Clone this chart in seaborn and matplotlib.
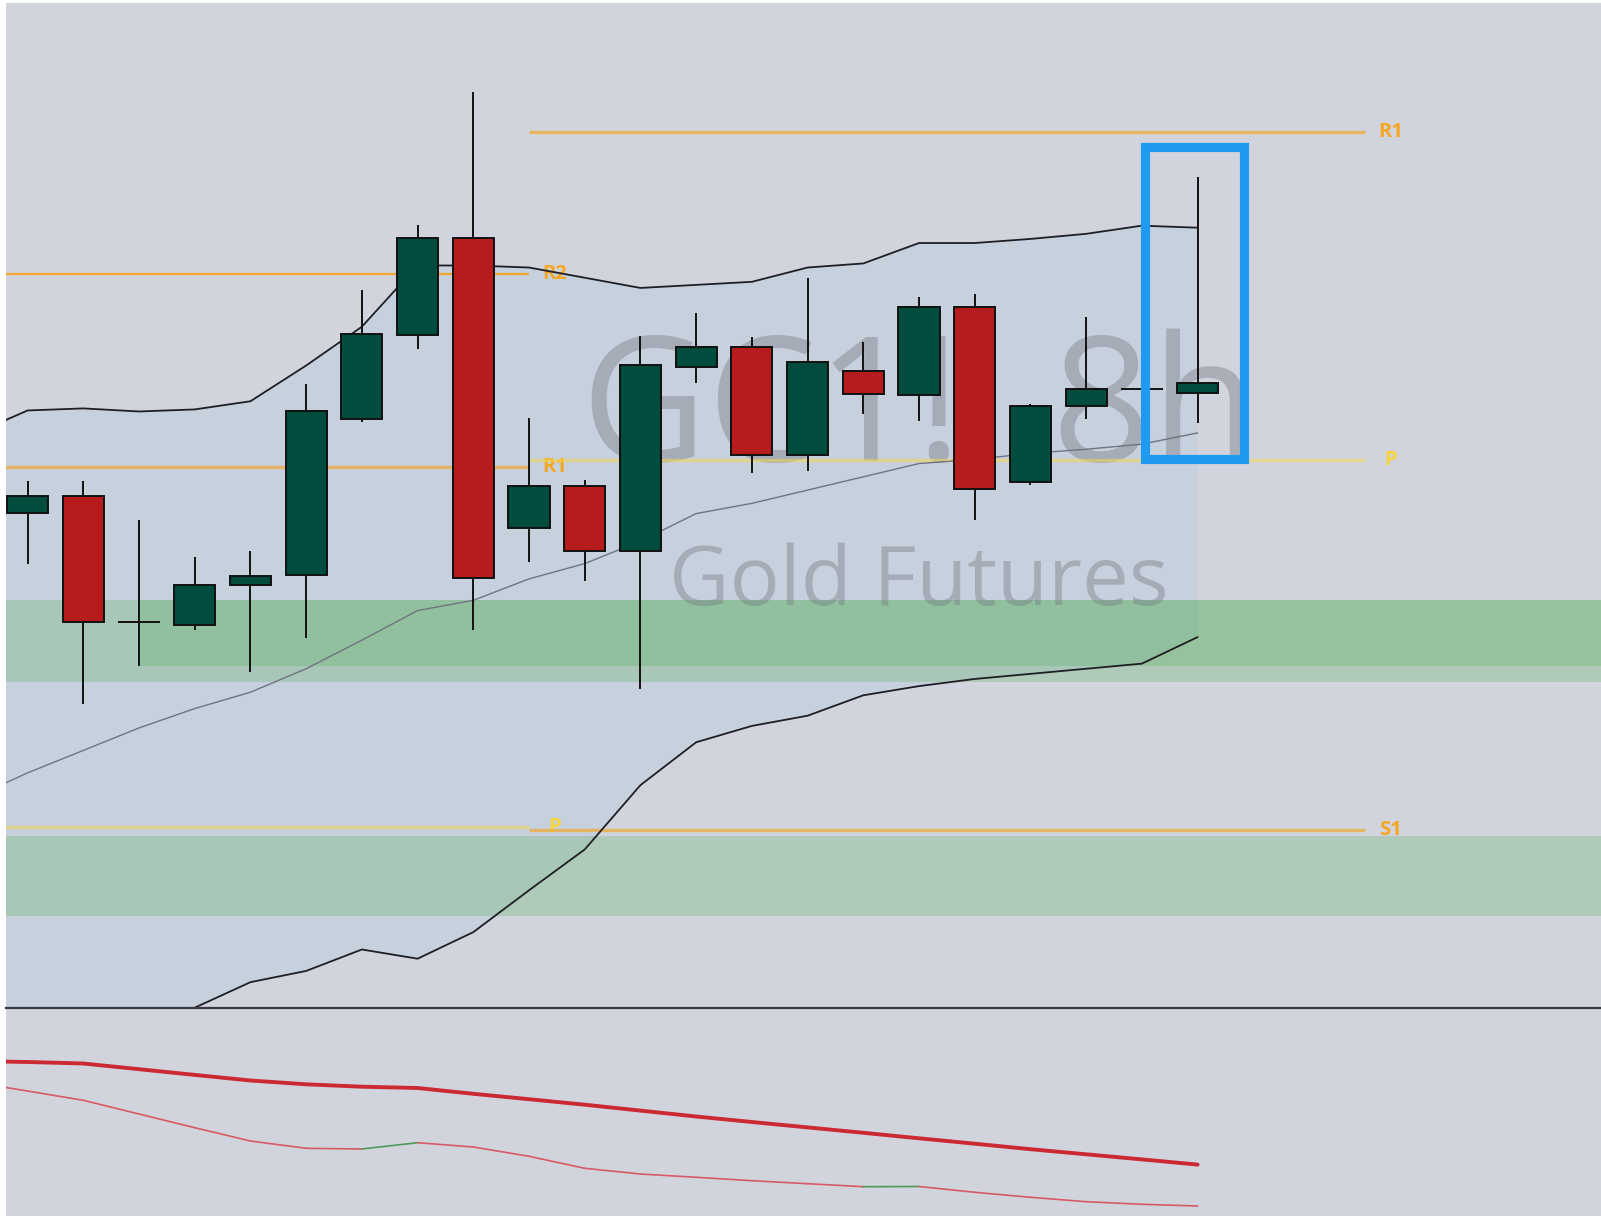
import numpy as np
import pandas as pd
import matplotlib
matplotlib.use("Agg")
import matplotlib.pyplot as plt
import seaborn as sns
from matplotlib.patches import Rectangle

# ---------------- data ----------------
bar_index = list(range(22))
opens  = [2349.8, 2351.4, 2339.1, 2338.8, 2342.7, 2343.7, 2359.0, 2367.2, 2376.7, 2348.3, 2352.4,
          2346.0, 2364.1, 2366.0, 2355.4, 2363.7, 2361.3, 2369.9, 2352.8, 2360.2, 2361.9, 2361.5]
closes = [2351.4, 2339.1, 2339.1, 2342.7, 2343.6, 2359.7, 2367.3, 2376.7, 2343.4, 2352.4, 2346.0,
          2364.3, 2366.0, 2355.4, 2364.5, 2361.4, 2369.9, 2352.1, 2360.2, 2361.9, 2361.9, 2362.5]
highs  = [2352.9, 2352.9, 2349.1, 2345.4, 2346.0, 2362.4, 2371.6, 2378.0, 2391.0, 2359.1, 2353.0,
          2367.1, 2369.3, 2367.0, 2372.8, 2366.5, 2370.9, 2371.2, 2360.4, 2369.0, 2361.9, 2382.7]
lows   = [2344.8, 2331.0, 2334.8, 2338.3, 2334.2, 2337.5, 2358.7, 2365.8, 2338.3, 2345.0, 2343.1,
          2332.5, 2362.5, 2353.7, 2353.9, 2359.5, 2358.8, 2349.1, 2352.5, 2359.0, 2361.9, 2358.6]

band_index = list(range(-1, 22))
bb_upper = [2357.4, 2359.8, 2360.0, 2359.7, 2359.9, 2360.7, 2364.2, 2368.0, 2374.0, 2374.0, 2373.8, 2372.8,
            2371.8, 2372.1, 2372.4, 2373.8, 2374.2, 2376.2, 2376.2, 2376.6, 2377.1, 2377.9, 2377.7]
bb_basis = [2321.8, 2324.3, 2326.5, 2328.7, 2330.6, 2332.2, 2334.5, 2337.3, 2340.2, 2341.2, 2343.3, 2344.8,
            2347.0, 2349.7, 2350.7, 2352.0, 2353.3, 2354.6, 2355.0, 2355.6, 2356.0, 2356.5, 2357.6]
bb_lower = [2286.2, 2288.8, 2293.0, 2297.7, 2301.3, 2303.8, 2304.9, 2307.0, 2306.1, 2308.7, 2312.8, 2316.8,
            2323.1, 2327.3, 2328.9, 2329.9, 2331.9, 2332.8, 2333.5, 2334.0, 2334.5, 2335.0, 2337.6]

# pivot levels: previous period (left) and current period (right)
pivot_left_names  = ["R2", "R1", "P"]
pivot_left_levels = [2373.2, 2354.3, 2319.0]
pivot_left_span   = [-6, 9]
pivot_right_names  = ["R1", "P", "S1"]
pivot_right_levels = [2387.1, 2354.9, 2318.7]
pivot_right_span   = [9, 24]

# demand zones (low, high, start bar)
zone_lows   = [2333.2, 2334.8, 2310.3]
zone_highs  = [2341.2, 2341.2, 2318.1]
zone_starts = [-6, 2, -6]

# highlight box (bar range, price range)
highlight_bars   = [20.05, 21.84]
highlight_prices = [2355.0, 2385.6]

# lower pane indicator
ind_slow = [155.0, 154.0, 152.5, 146.8, 141.1, 135.5, 131.7, 129.3, 128.0, 122.2, 116.8, 111.3,
            105.4, 99.5, 94.0, 88.6, 83.2, 77.7, 72.3, 66.8, 61.7, 56.6, 51.4]
ind_fast = [134.0, 125.0, 115.7, 102.0, 88.3, 75.0, 67.7, 67.0, 73.3, 69.0, 59.7, 47.7,
            42.0, 38.7, 35.3, 32.3, 29.3, 29.5, 23.7, 18.7, 14.3, 11.7, 10.0]

# ---------------- style ----------------
sns.set_theme(style="white")
plt.rcParams["font.family"] = ["Open Sans", "DejaVu Sans"]

BG = "#D1D4DC"
GREEN_BODY = "#004D40"
RED_BODY = "#B71C1C"
ORANGE = "#F5A623"
YELLOW = "#F2D94E"

W, H = 1601, 1216
fig = plt.figure(figsize=(W / 100, H / 100), dpi=100, facecolor="white")
ax = fig.add_axes([6 / W, 208 / H, 1595 / W, 1005 / H])
ax2 = fig.add_axes([6 / W, 0, 1595 / W, 208 / H])

XL = (-0.387, 28.24)
for a in (ax, ax2):
    a.set_facecolor(BG)
    a.set_xlim(*XL)
    a.set_xticks([])
    a.set_yticks([])
    for s in a.spines.values():
        s.set_visible(False)
ax.set_ylim(2301.27, 2399.71)
ax2.set_ylim(0, 208)
ax2.spines["top"].set_visible(True)
ax2.spines["top"].set_color("#373A42")
ax2.spines["top"].set_linewidth(1.6)

# band fill
ax.fill_between(band_index, bb_lower, bb_upper, color="#2196F3", alpha=0.055, lw=0, zorder=1)

# zones
for lo, hi, st in zip(zone_lows, zone_highs, zone_starts):
    ax.fill_between([st, 40], [lo, lo], [hi, hi], color="#4CAF50", alpha=0.25, lw=0, zorder=2)

# watermark
ax.text(16.0, 2354.8, "GC1!, 8h", ha="center", va="baseline", fontsize=125,
        color="#787B86", alpha=0.42, zorder=3)
ax.text(16.0, 2340.7, "Gold Futures", ha="center", va="baseline", fontsize=60,
        color="#787B86", alpha=0.42, zorder=3)

# pivots
for names, levels, span in [(pivot_left_names, pivot_left_levels, pivot_left_span),
                            (pivot_right_names, pivot_right_levels, pivot_right_span)]:
    for n, lv in zip(names, levels):
        if n == "P":
            col, a_, lw_, tcol = YELLOW, 0.55, 2.4, "#F5D63A"
        elif n == "R2":
            col, a_, lw_, tcol = ORANGE, 0.95, 1.6, ORANGE
        else:
            col, a_, lw_, tcol = ORANGE, 0.65, 2.4, ORANGE
        ax.plot(span, [lv, lv], color=col, alpha=a_, lw=lw_, zorder=4, solid_capstyle="butt")
        ax.text(span[1] + 0.46, lv, n, ha="center", va="center", fontsize=14.5,
                fontweight="bold", color=tcol, zorder=4)

# bollinger lines
bands = pd.DataFrame({"bar": band_index, "upper": bb_upper, "basis": bb_basis, "lower": bb_lower})
sns.lineplot(data=bands, x="bar", y="upper", ax=ax, color="#1E1F24", lw=1.3, zorder=5)
sns.lineplot(data=bands, x="bar", y="lower", ax=ax, color="#1E1F24", lw=1.3, zorder=5)
sns.lineplot(data=bands, x="bar", y="basis", ax=ax, color="#6F7480", lw=1.0, zorder=5)

# candles
o = np.array(opens); c = np.array(closes)
cols = [GREEN_BODY if cc >= oo else RED_BODY for oo, cc in zip(o, c)]
ax.vlines(bar_index, lows, highs, color="#111111", lw=1.4, zorder=6)
ax.bar(bar_index, c - o, bottom=o, width=0.74, color=cols, edgecolor="#111111",
       linewidth=1.4, zorder=7)

# highlight box
ax.add_patch(Rectangle((highlight_bars[0], highlight_prices[0]),
                       highlight_bars[1] - highlight_bars[0],
                       highlight_prices[1] - highlight_prices[0],
                       fill=False, edgecolor="#1E9BF0", lw=6.6, zorder=8, joinstyle="miter"))

ax.set_xlabel(""); ax.set_ylabel("")
ax.set_xlim(*XL)

# lower pane
ind = pd.DataFrame({"bar": band_index, "slow": ind_slow, "fast": ind_fast})
sns.lineplot(data=ind, x="bar", y="slow", ax=ax2, color="#CC2A33", lw=2.8)
for k in range(len(band_index) - 1):
    up = ind_fast[k + 1] >= ind_fast[k]
    ax2.plot(band_index[k:k + 2], ind_fast[k:k + 2], color="#4E9A55" if up else "#D85A66",
             lw=1.2, solid_capstyle="round")
ax2.set_xlabel(""); ax2.set_ylabel("")
ax2.set_xlim(*XL)
ax2.set_ylim(0, 208)

fig.savefig("out.png", dpi=100, facecolor="white")
